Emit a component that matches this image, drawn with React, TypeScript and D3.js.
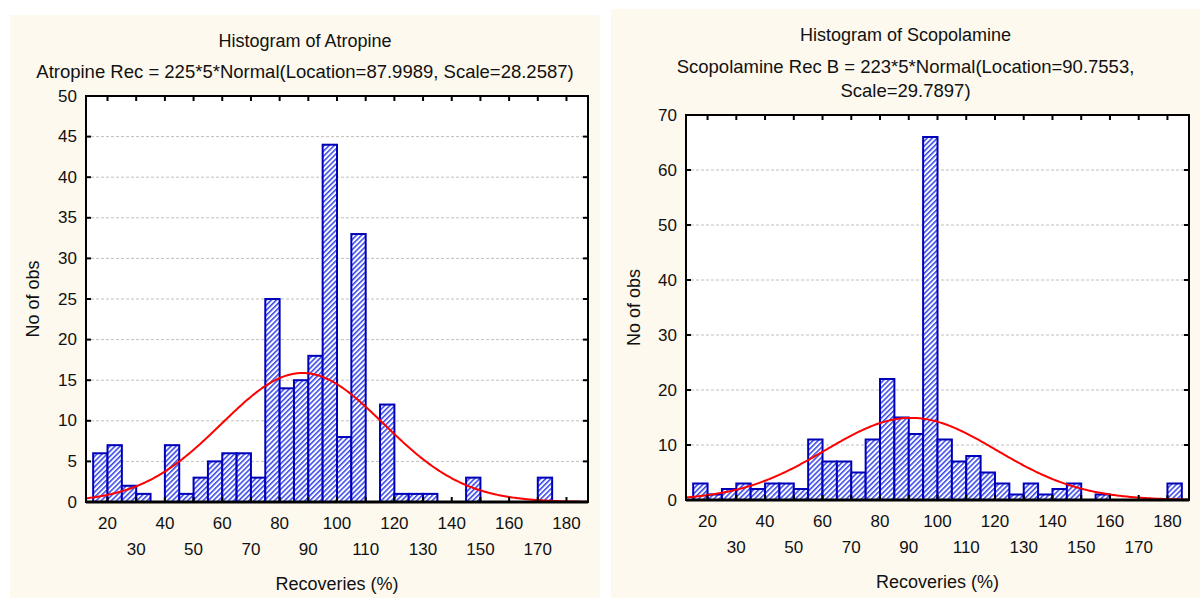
import React from "react";
import * as d3 from "d3";

// ---- data ----
const binWidth = 5;
const atropineBinStart = 15;
const atropineCounts = [6, 7, 2, 1, 0, 7, 1, 3, 5, 6, 6, 3, 25, 14, 15, 18, 44, 8, 33, 0, 12, 1, 1, 1, 0, 0, 3, 0, 0, 0, 0, 3];
const scopolamineBinStart = 15;
const scopolamineCounts = [3, 1, 2, 3, 2, 3, 3, 2, 11, 7, 7, 5, 11, 22, 15, 12, 66, 11, 7, 8, 5, 3, 1, 3, 1, 2, 3, 0, 1, 0, 0, 0, 0, 3];
const xTicks = [20, 30, 40, 50, 60, 70, 80, 90, 100, 110, 120, 130, 140, 150, 160, 170, 180];
const atropineYTicks = [0, 5, 10, 15, 20, 25, 30, 35, 40, 45, 50];
const scopolamineYTicks = [0, 10, 20, 30, 40, 50, 60, 70];
const atropineFit = { n: 225, loc: 87.9989, scale: 28.2587 };
const scopolamineFit = { n: 223, loc: 90.7553, scale: 29.7897 };
const atropineTitle = ["Histogram of  Atropine"];
const atropineSub = ["Atropine Rec = 225*5*Normal(Location=87.9989, Scale=28.2587)"];
const scopolamineTitle = ["Histogram of  Scopolamine"];
const scopolamineSub = ["Scopolamine Rec B = 223*5*Normal(Location=90.7553,", "Scale=29.7897)"];

const FONT = "'Liberation Sans', Arial, sans-serif";

type PanelProps = {
  id: string;
  panel: { x: number; y: number; w: number; h: number };
  plot: { l: number; r: number; t: number; b: number };
  counts: number[];
  binStart: number;
  yMax: number;
  yTicks: number[];
  fit: { n: number; loc: number; scale: number };
  title: string[];
  sub: string[];
  titleY: number;
  subY: number[];
};

function Panel(p: PanelProps) {
  const x = d3.scaleLinear().domain([12.5, 187.5]).range([p.plot.l, p.plot.r]);
  const y = d3.scaleLinear().domain([0, p.yMax]).range([p.plot.b, p.plot.t]);
  const pdf = (v: number) =>
    (p.fit.n * binWidth * Math.exp(-0.5 * ((v - p.fit.loc) / p.fit.scale) ** 2)) /
    (p.fit.scale * Math.sqrt(2 * Math.PI));
  const pts = d3.range(12.5, 187.51, 0.5).map((v) => [v, pdf(v)] as [number, number]);
  const line = d3
    .line<[number, number]>()
    .x((d) => x(d[0]))
    .y((d) => y(d[1]));
  const cx = p.panel.x + p.panel.w / 2;
  const plotCx = (p.plot.l + p.plot.r) / 2;
  const plotCy = (p.plot.t + p.plot.b) / 2;
  const tick = 5;
  return (
    <g>
      <rect x={p.panel.x} y={p.panel.y} width={p.panel.w} height={p.panel.h} fill="#fdf9ee" />
      {p.title.map((t, i) => (
        <text key={"t" + i} x={cx} y={p.titleY} textAnchor="middle" dominantBaseline="central" fontSize={18} fontFamily={FONT} fill="#111">
          {t}
        </text>
      ))}
      {p.sub.map((t, i) => (
        <text key={"s" + i} x={cx} y={p.subY[i]} textAnchor="middle" dominantBaseline="central" fontSize={18.5} fontFamily={FONT} fill="#111">
          {t}
        </text>
      ))}
      <rect x={p.plot.l} y={p.plot.t} width={p.plot.r - p.plot.l} height={p.plot.b - p.plot.t} fill="#ffffff" />
      {p.yTicks.slice(1, -1).map((v) => (
        <line key={"g" + v} x1={p.plot.l} x2={p.plot.r} y1={y(v)} y2={y(v)} stroke="#c0c0c0" strokeWidth={1} strokeDasharray="3,2" />
      ))}
      <defs>
        <clipPath id={p.id + "clip"}>
          <rect x={p.plot.l} y={p.plot.t} width={p.plot.r - p.plot.l} height={p.plot.b - p.plot.t} />
        </clipPath>
      </defs>
      {p.counts.map((c, i) => {
        if (c <= 0) return null;
        const s = p.binStart + i * binWidth;
        return (
          <rect
            key={"b" + i}
            x={x(s)}
            y={y(c)}
            width={x(s + binWidth) - x(s)}
            height={y(0) - y(c)}
            fill="url(#hatch)"
            stroke="#0000b8"
            strokeWidth={2}
          />
        );
      })}
      <path d={line(pts) || ""} fill="none" stroke="#ff0000" strokeWidth={2} clipPath={`url(#${p.id}clip)`} />
      {/* frame */}
      <rect x={p.plot.l} y={p.plot.t} width={p.plot.r - p.plot.l} height={p.plot.b - p.plot.t} fill="none" stroke="#000" strokeWidth={2} />
      <line x1={p.plot.l} x2={p.plot.r} y1={p.plot.b} y2={p.plot.b} stroke="#000" strokeWidth={3} />
      {/* ticks */}
      {p.yTicks.map((v) => (
        <g key={"yt" + v}>
          <line x1={p.plot.l} x2={p.plot.l + tick} y1={y(v)} y2={y(v)} stroke="#000" strokeWidth={2} />
          <line x1={p.plot.r} x2={p.plot.r - tick} y1={y(v)} y2={y(v)} stroke="#000" strokeWidth={2} />
          <text x={p.plot.l - 9} y={y(v)} textAnchor="end" dominantBaseline="central" fontSize={17} fontFamily={FONT} fill="#111">
            {v}
          </text>
        </g>
      ))}
      {xTicks.map((v, i) => (
        <g key={"xt" + v}>
          <line x1={x(v)} x2={x(v)} y1={p.plot.t} y2={p.plot.t + tick} stroke="#000" strokeWidth={2} />
          <line x1={x(v)} x2={x(v)} y1={p.plot.b} y2={p.plot.b - tick} stroke="#000" strokeWidth={2} />
          <text x={x(v)} y={p.plot.b + (i % 2 === 0 ? 21 : 47)} textAnchor="middle" dominantBaseline="central" fontSize={17} fontFamily={FONT} fill="#111">
            {v}
          </text>
        </g>
      ))}
      <text x={plotCx} y={p.plot.b + 82} textAnchor="middle" dominantBaseline="central" fontSize={18} fontFamily={FONT} fill="#111">
        Recoveries (%)
      </text>
      <text
        transform={`translate(${p.panel.x + 23},${plotCy}) rotate(-90)`}
        textAnchor="middle"
        dominantBaseline="central"
        fontSize={18}
        fontFamily={FONT}
        fill="#111"
      >
        No of obs
      </text>
    </g>
  );
}

export default function App() {
  return (
    <svg width={1200} height={598} style={{ position: "absolute", left: 0, top: 0, background: "#fff" }}>
      <defs>
        <pattern id="hatch" width={3.6} height={3.6} patternUnits="userSpaceOnUse" patternTransform="rotate(45)">
          <rect width={3.6} height={3.6} fill="#ffffff" />
          <line x1={0.8} y1={0} x2={0.8} y2={3.6} stroke="#3040e8" strokeWidth={1.5} />
        </pattern>
      </defs>
      <Panel
        id="a"
        panel={{ x: 10, y: 15, w: 590, h: 583 }}
        plot={{ l: 86, r: 588, t: 96, b: 502 }}
        counts={atropineCounts}
        binStart={atropineBinStart}
        yMax={50}
        yTicks={atropineYTicks}
        fit={atropineFit}
        title={atropineTitle}
        sub={atropineSub}
        titleY={41}
        subY={[71]}
      />
      <Panel
        id="s"
        panel={{ x: 611, y: 9, w: 589, h: 589 }}
        plot={{ l: 686, r: 1189, t: 115, b: 500 }}
        counts={scopolamineCounts}
        binStart={scopolamineBinStart}
        yMax={70}
        yTicks={scopolamineYTicks}
        fit={scopolamineFit}
        title={scopolamineTitle}
        sub={scopolamineSub}
        titleY={35}
        subY={[66, 90]}
      />
    </svg>
  );
}
